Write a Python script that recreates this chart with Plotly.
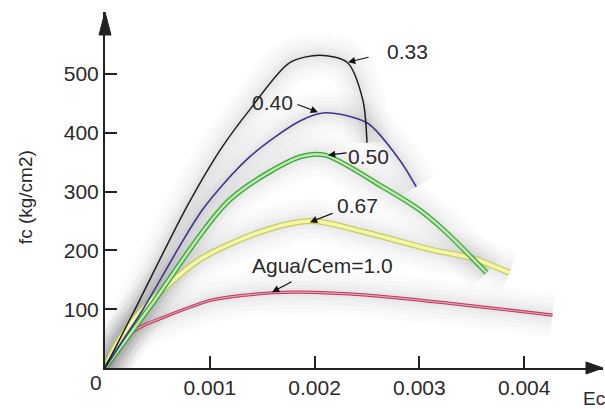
import plotly.graph_objects as go

# ---- data (strain in mm/mm, fc in kg/cm2) ----
strain_033 = [0, 0.00027, 0.00078, 0.00110, 0.00138, 0.00176, 0.00205, 0.00231, 0.00246, 0.00250]
fc_033 = [0, 94, 274, 371, 439, 519, 532, 520, 456, 383]

strain_040 = [0, 0.00036, 0.00093, 0.00138, 0.00186, 0.00210, 0.00250, 0.00281, 0.00297]
fc_040 = [0, 99, 269, 359, 420, 434, 417, 354, 308]

strain_050 = [0, 0.00043, 0.00119, 0.00186, 0.00210, 0.00265, 0.00300, 0.00326, 0.00364]
fc_050 = [0, 104, 286, 359, 362, 308, 269, 230, 162]

strain_067 = [0, 0.000115, 0.00033, 0.00090, 0.00154, 0.00198, 0.00250, 0.00312, 0.00350, 0.00386]
fc_067 = [0, 42, 94, 184, 235, 250, 230, 201, 187, 162]

strain_100 = [0, 0.000048, 0.000143, 0.000267, 0.00040, 0.000525, 0.00103, 0.00160, 0.00186, 0.00250, 0.00329, 0.00427]
fc_100 = [0, 8.5, 38, 62, 75, 84, 116, 128, 129, 124, 110, 90]

x_ticks = [0.001, 0.002, 0.003, 0.004]
x_tick_text = ["0.001", "0.002", "0.003", "0.004"]
y_ticks = [100, 200, 300, 400, 500]
y_tick_text = ["100", "200", "300", "400", "500"]

# label text, text position, arrow tail, arrow head
labels = [
    ("0.33", 0.002882, 539, 0.002529, 529, 0.002319, 520),
    ("0.40", 0.001594, 451, 0.001823, 449, 0.002032, 435),
    ("0.50", 0.002519, 360, 0.002319, 366, 0.002128, 362),
    ("0.67", 0.002414, 277, 0.002185, 264, 0.001956, 248),
    ("Agua/Cem=1.0", 0.002071, 175, 0.001794, 148, 0.001594, 129),
]

FONT = "Liberation Sans, Arial, sans-serif"
TXT = "#2a2a2a"

fig = go.Figure()

def add_curve(xs, ys, layers):
    for color, width in layers:
        fig.add_trace(go.Scatter(x=xs, y=ys, mode="lines",
                                 line=dict(color=color, width=width, shape="spline", smoothing=0.8),
                                 hoverinfo="skip", showlegend=False))

# soft shadow haze
for xs, ys in [(strain_033, fc_033), (strain_040, fc_040), (strain_050, fc_050),
               (strain_067, fc_067), (strain_100, fc_100)]:
    add_curve(xs, ys, [("rgba(0,0,0,0.015)", 44), ("rgba(0,0,0,0.015)", 34), ("rgba(0,0,0,0.018)", 24),
                       ("rgba(0,0,0,0.02)", 15), ("rgba(0,0,0,0.025)", 8)])

add_curve(strain_100, fc_100, [("#b83a5c", 3.2), ("#eaa0b6", 1.2)])
add_curve(strain_067, fc_067, [("#c6cc62", 6), ("#f4f7a8", 3.5)])
add_curve(strain_050, fc_050, [("#3f9e3f", 5), ("#b4f0a8", 2.5)])
add_curve(strain_040, fc_040, [("#3b3590", 1.6)])
add_curve(strain_033, fc_033, [("#1e1e1e", 1.5)])

annotations = []
for txt, tx, ty, ax, ay, hx, hy in labels:
    annotations.append(dict(x=tx, y=ty, text=txt, showarrow=False,
                            font=dict(family=FONT, size=21, color=TXT),
                            xanchor="center", yanchor="middle"))
    annotations.append(dict(x=hx, y=hy, ax=ax, ay=ay, axref="x", ayref="y",
                            text="", showarrow=True, arrowhead=2, arrowsize=1.2,
                            arrowwidth=1.2, arrowcolor="#111"))

annotations += [
    dict(xref="paper", yref="paper", x=-0.1606, y=0.48, text="fc (kg/cm2)", textangle=-90,
         showarrow=False, font=dict(family=FONT, size=19, color=TXT), xanchor="center", yanchor="middle"),
    dict(xref="paper", yref="paper", x=0.955, y=-0.0506, text="Ec", showarrow=False,
         font=dict(family=FONT, size=19, color=TXT), xanchor="left", yanchor="top"),
    dict(xref="paper", yref="paper", x=-0.018, y=-0.042, text="0", showarrow=False,
         font=dict(family=FONT, size=21, color=TXT), xanchor="center", yanchor="middle"),
]

shapes = [
    dict(type="path", xref="paper", yref="paper", xsizemode="pixel", ysizemode="pixel",
         xanchor=0, yanchor=1, path="M 0,0 L -6,-23 L 6,-23 Z",
         fillcolor="#222", line=dict(color="#222", width=1)),
    dict(type="path", xref="paper", yref="paper", xsizemode="pixel", ysizemode="pixel",
         xanchor=1, yanchor=0, path="M 0,0 L -17,6 L -17,-6 Z",
         fillcolor="#222", line=dict(color="#222", width=1)),
]

fig.update_layout(
    width=605, height=409,
    margin=dict(l=105, r=2, t=12, b=41),
    paper_bgcolor="white", plot_bgcolor="white",
    annotations=annotations, shapes=shapes,
    showlegend=False,
    xaxis=dict(range=[0, 0.0047519], showgrid=False, zeroline=False,
               showline=True, linewidth=2, linecolor="#222",
               ticks="inside", ticklen=12, tickwidth=1.5, tickcolor="#222",
               tickvals=x_ticks, ticktext=x_tick_text,
               tickfont=dict(family=FONT, size=21, color=TXT)),
    yaxis=dict(range=[0, 605.4], showgrid=False, zeroline=False,
               showline=True, linewidth=2, linecolor="#222",
               ticks="inside", ticklen=12, tickwidth=1.5, tickcolor="#222",
               tickvals=y_ticks, ticktext=y_tick_text,
               tickfont=dict(family=FONT, size=21, color=TXT)),
)

fig.write_html("out.html")
